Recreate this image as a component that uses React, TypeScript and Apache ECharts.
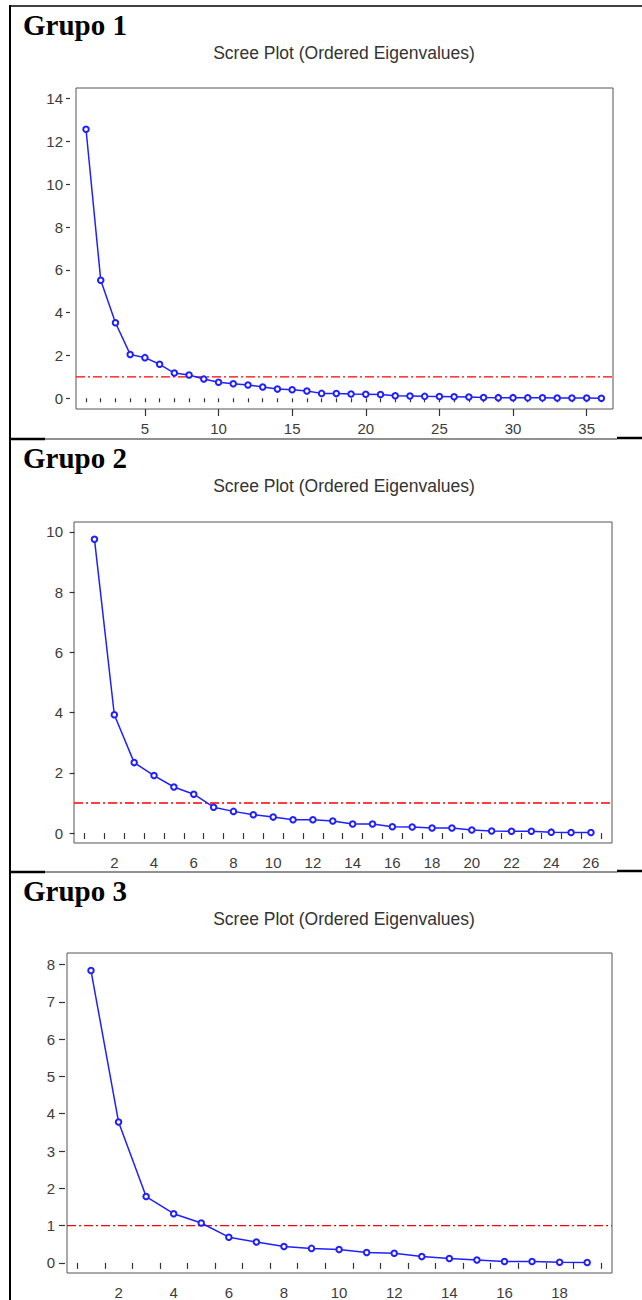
import React, { useEffect, useRef } from "react";
import * as echarts from "echarts";

// ---- Data (ordered eigenvalues) ----
const G1_EIGENVALUES = [
  12.57, 5.52, 3.53, 2.05, 1.9, 1.59, 1.18, 1.09, 0.9, 0.75, 0.68, 0.62,
  0.53, 0.43, 0.4, 0.34, 0.23, 0.22, 0.2, 0.19, 0.18, 0.12, 0.11, 0.09,
  0.08, 0.07, 0.06, 0.04, 0.03, 0.03, 0.02, 0.02, 0.01, 0.01, 0.01, 0.0,
];
const G2_EIGENVALUES = [
  9.76, 3.93, 2.34, 1.91, 1.53, 1.29, 0.86, 0.72, 0.61, 0.53, 0.44, 0.44,
  0.4, 0.3, 0.3, 0.21, 0.2, 0.17, 0.17, 0.1, 0.07, 0.06, 0.06, 0.03, 0.02,
  0.02,
];
const G3_EIGENVALUES = [
  7.84, 3.78, 1.78, 1.32, 1.07, 0.69, 0.56, 0.44, 0.39, 0.36, 0.28, 0.26,
  0.17, 0.12, 0.08, 0.04, 0.04, 0.02, 0.01,
];

const GROUP_TITLES = ["Grupo 1", "Grupo 2", "Grupo 3"];
const PLOT_TITLE = "Scree Plot (Ordered Eigenvalues)";
const THRESHOLD = 1;

// tick labels
const G1_X_LABELS = [5, 10, 15, 20, 25, 30, 35];
const G1_Y_LABELS = [0, 2, 4, 6, 8, 10, 12, 14];
const G2_X_LABELS = [2, 4, 6, 8, 10, 12, 14, 16, 18, 20, 22, 24, 26];
const G2_Y_LABELS = [0, 2, 4, 6, 8, 10];
const G3_X_LABELS = [2, 4, 6, 8, 10, 12, 14, 16, 18];
const G3_Y_LABELS = [0, 1, 2, 3, 4, 5, 6, 7, 8];

// ---- layout ----
const PANEL_SHIFT = 433;
const LABEL_COLOR = "#3c3c3c";
const FRAME_COLOR = "#555";
const LINE_BLUE = "#2020ff";
const THRESHOLD_RED = "#ff0000";

const panels = [
  {
    values: G1_EIGENVALUES,
    xLabels: G1_X_LABELS,
    yLabels: G1_Y_LABELS,
    tickAtHalf: false,
    majorTicks: G1_X_LABELS,
    grid: { left: 76, top: 88, width: 537, height: 321 },
    x: [0.32, 36.79],
    y: [-0.5, 14.5],
    yOffset: 6,
    yTickLen: 4,
    yMargin: 7,
  },
  {
    values: G2_EIGENVALUES,
    xLabels: G2_X_LABELS,
    yLabels: G2_Y_LABELS,
    tickAtHalf: true,
    majorTicks: null as number[] | null,
    grid: { left: 74, top: 522, width: 538, height: 321 },
    x: [-0.03, 27.06],
    y: [-0.33, 10.33],
    yOffset: 1,
    yTickLen: 5,
    yMargin: 10,
  },
  {
    values: G3_EIGENVALUES,
    xLabels: G3_X_LABELS,
    yLabels: G3_Y_LABELS,
    tickAtHalf: true,
    majorTicks: null as number[] | null,
    grid: { left: 67, top: 953, width: 545, height: 322 },
    x: [0.13, 19.9],
    y: [-0.27, 8.31],
    yOffset: 2,
    yTickLen: 6,
    yMargin: 10,
  },
];

function buildOption() {
  const grids: any[] = [];
  const xAxes: any[] = [];
  const yAxes: any[] = [];
  const series: any[] = [];
  const graphics: any[] = [];

  const labelFont = { color: LABEL_COLOR, fontSize: 15, fontFamily: '"Liberation Sans", Arial, sans-serif' };

  panels.forEach((p, i) => {
    grids.push({
      ...p.grid,
      show: true,
      borderColor: FRAME_COLOR,
      borderWidth: 1,
      backgroundColor: "#fff",
      containLabel: false,
    });
    const n = p.values.length;
    const ticks = p.tickAtHalf
      ? Array.from({ length: n + 1 }, (_, k) => k + 0.5)
      : Array.from({ length: n }, (_, k) => k + 1);

    const mainX = xAxes.length;
    xAxes.push({
      type: "value",
      gridIndex: i,
      min: p.x[0],
      max: p.x[1],
      position: "bottom",
      axisLine: { show: false },
      splitLine: { show: false },
      axisTick: {
        show: true,
        inside: false,
        length: p.tickAtHalf ? 6 : 4,
        customValues: ticks,
        lineStyle: { color: "#333", width: 1.2 },
      },
      axisLabel: { ...labelFont, margin: 12, customValues: p.xLabels },
    });
    if (p.majorTicks) {
      xAxes.push({
        type: "value",
        gridIndex: i,
        min: p.x[0],
        max: p.x[1],
        position: "bottom",
        offset: 0,
        axisLine: { show: false },
        splitLine: { show: false },
        axisTick: {
          show: true,
          inside: false,
          length: 7,
          customValues: p.majorTicks,
          lineStyle: { color: "#333", width: 1.2 },
        },
        axisLabel: { show: false },
      });
    }
    yAxes.push({
      type: "value",
      gridIndex: i,
      min: p.y[0],
      max: p.y[1],
      position: "left",
      offset: p.yOffset,
      axisLine: { show: false },
      splitLine: { show: false },
      axisTick: {
        show: true,
        inside: false,
        length: p.yTickLen,
        customValues: p.yLabels,
        lineStyle: { color: "#333", width: 1.2 },
      },
      axisLabel: { ...labelFont, margin: p.yMargin, customValues: p.yLabels },
    });

    // threshold line at eigenvalue = 1 spanning the axis range
    series.push({
      type: "line",
      xAxisIndex: mainX,
      yAxisIndex: i,
      data: [
        [p.x[0], THRESHOLD],
        [p.x[1], THRESHOLD],
      ],
      symbol: "none",
      silent: true,
      z: 1,
      lineStyle: { color: THRESHOLD_RED, width: 1.4, type: [9, 3, 2, 3] },
    });
    series.push({
      type: "line",
      xAxisIndex: mainX,
      yAxisIndex: i,
      data: p.values.map((v, k) => [k + 1, v]),
      symbol: "emptyCircle",
      symbolSize: 5.5,
      showSymbol: true,
      z: 3,
      lineStyle: { color: LINE_BLUE, width: 1.5 },
      itemStyle: { color: LINE_BLUE, borderColor: LINE_BLUE, borderWidth: 1 },
    });

    const dy = i * PANEL_SHIFT;
    graphics.push({
      type: "text",
      x: 23,
      y: 25 + dy,
      style: {
        text: GROUP_TITLES[i],
        fill: "#000",
        fontSize: 29,
        fontWeight: "bold",
        fontFamily: '"Liberation Serif", "Times New Roman", serif',
        align: "left",
        verticalAlign: "middle",
      },
    });
    graphics.push({
      type: "text",
      x: 344,
      y: 53 + dy,
      style: {
        text: PLOT_TITLE,
        fill: "#333",
        fontSize: 17.5,
        fontFamily: '"Liberation Sans", Arial, sans-serif',
        align: "center",
        verticalAlign: "middle",
      },
    });
    if (i > 0) {
      const sy = 439 + (i - 1) * PANEL_SHIFT;
      graphics.push({
        type: "line",
        shape: { x1: 10, y1: sy, x2: 617, y2: sy },
        style: { stroke: "#222", lineWidth: 1.2 },
      });
      graphics.push({
        type: "line",
        shape: { x1: 10, y1: sy, x2: 45, y2: sy },
        style: { stroke: "#000", lineWidth: 2.5 },
      });
      graphics.push({
        type: "line",
        shape: { x1: 617, y1: sy - 1, x2: 642, y2: sy - 1 },
        style: { stroke: "#000", lineWidth: 2.5 },
      });
    }
  });

  // outer table borders
  graphics.push({
    type: "line",
    shape: { x1: 9, y1: 6, x2: 642, y2: 6 },
    style: { stroke: "#000", lineWidth: 1.5 },
  });
  graphics.push({
    type: "line",
    shape: { x1: 10, y1: 5, x2: 10, y2: 1300 },
    style: { stroke: "#000", lineWidth: 2 },
  });

  return {
    animation: false,
    backgroundColor: "#fff",
    grid: grids,
    xAxis: xAxes,
    yAxis: yAxes,
    series,
    graphic: graphics,
  };
}

export default function App() {
  const ref = useRef<HTMLDivElement>(null);
  useEffect(() => {
    if (!ref.current) return;
    const chart = echarts.init(ref.current, undefined, { renderer: "svg" });
    chart.setOption(buildOption() as any);
    return () => chart.dispose();
  }, []);
  return (
    <div
      ref={ref}
      style={{ position: "absolute", left: 0, top: 0, width: 642, height: 1300, background: "#fff" }}
    />
  );
}
